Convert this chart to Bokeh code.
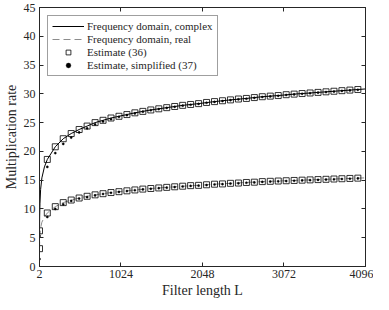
from bokeh.plotting import figure
from bokeh.models import Range1d, FixedTicker, LinearAxis, CustomJSTickFormatter, Legend, LegendItem
from bokeh.embed import file_html
from bokeh.resources import INLINE

# ---------------- data ----------------
x_ticks = [2, 1024, 2048, 3072, 4096]
y_ticks = [0, 5, 10, 15, 20, 25, 30, 35, 40, 45]

# filter lengths at which the estimates are marked
marker_L = [2, 100, 200, 300, 400, 500, 600, 700, 800, 900, 1000,
            1100, 1200, 1300, 1400, 1500, 1600, 1700, 1800, 1900, 2000,
            2100, 2200, 2300, 2400, 2500, 2600, 2700, 2800, 2900, 3000,
            3100, 3200, 3300, 3400, 3500, 3600, 3700, 3800, 3900, 4000]

# estimate (36), complex / real
est_complex = [6.2, 18.6, 20.8, 22.2, 23.1, 23.8, 24.4, 25.0, 25.4, 25.8, 26.1,
               26.4, 26.7, 26.95, 27.2, 27.4, 27.6, 27.8, 28.0, 28.15, 28.3,
               28.5, 28.65, 28.8, 28.95, 29.1, 29.2, 29.35, 29.5, 29.6, 29.7,
               29.85, 29.95, 30.05, 30.15, 30.25, 30.35, 30.45, 30.55, 30.65, 30.75]
est_real = [3.1, 9.3, 10.4, 11.1, 11.55, 11.9, 12.2, 12.45, 12.65, 12.85, 13.0,
            13.15, 13.3, 13.45, 13.55, 13.65, 13.75, 13.85, 13.95, 14.05, 14.1,
            14.2, 14.3, 14.35, 14.45, 14.5, 14.6, 14.65, 14.75, 14.8, 14.85,
            14.9, 14.95, 15.0, 15.05, 15.1, 15.15, 15.2, 15.25, 15.3, 15.35]

# estimate, simplified (37)
simp_complex = [5.3, 17.3, 19.7, 21.3, 22.4, 23.3, 24.0, 24.7, 25.2, 25.6, 26.0,
                26.3, 26.6, 26.9, 27.15, 27.35, 27.55, 27.75, 27.95, 28.1, 28.25,
                28.45, 28.6, 28.75, 28.9, 29.05, 29.15, 29.3, 29.45, 29.55, 29.65,
                29.8, 29.9, 30.0, 30.1, 30.2, 30.3, 30.4, 30.5, 30.6, 30.7]
simp_real = [1.3, 8.6, 10.0, 10.8, 11.4, 11.8, 12.05, 12.35, 12.6, 12.8, 12.95,
             13.1, 13.25, 13.4, 13.5, 13.6, 13.7, 13.8, 13.9, 14.0, 14.05,
             14.15, 14.25, 14.3, 14.4, 14.45, 14.55, 14.6, 14.7, 14.75, 14.8,
             14.85, 14.9, 14.95, 15.0, 15.05, 15.1, 15.15, 15.2, 15.25, 15.3]

# frequency-domain curves (finer sampling at small L)
line_L = [2, 4, 8, 16, 32, 64, 100, 200, 300, 400, 500, 600, 700, 800, 900, 1000,
          1200, 1400, 1600, 1800, 2000, 2200, 2400, 2600, 2800, 3000,
          3200, 3400, 3600, 3800, 4000, 4096]
freq_complex = [6.2, 8.6, 11.0, 13.4, 15.4, 17.3, 18.6, 20.8, 22.2, 23.1, 23.8, 24.4,
                25.0, 25.4, 25.8, 26.1, 26.7, 27.2, 27.6, 28.0, 28.3, 28.65, 28.95,
                29.2, 29.5, 29.7, 29.95, 30.15, 30.35, 30.55, 30.75, 30.85]
freq_real = [3.1, 4.3, 5.5, 6.7, 7.7, 8.6, 9.3, 10.4, 11.1, 11.55, 11.9, 12.2,
             12.45, 12.65, 12.85, 13.0, 13.3, 13.55, 13.75, 13.95, 14.1, 14.3, 14.45,
             14.6, 14.75, 14.85, 14.95, 15.05, 15.15, 15.25, 15.35, 15.4]

# ---------------- figure ----------------
FONT = "Liberation Serif"
INK = "#262626"

p = figure(width=373, height=300, output_backend="svg", toolbar_location=None,
           x_range=Range1d(2, 4096), y_range=Range1d(0, 45),
           min_border_left=0, min_border_right=8, min_border_top=7, min_border_bottom=0)
p.background_fill_color = "white"
p.border_fill_color = "white"
p.outline_line_color = INK
p.outline_line_width = 1
p.xgrid.visible = False
p.ygrid.visible = False

def style_axis(ax, ticks):
    ax.ticker = FixedTicker(ticks=ticks)
    ax.axis_line_color = INK
    ax.major_tick_line_color = INK
    ax.major_tick_in = 4
    ax.major_tick_out = 0
    ax.minor_tick_line_color = None
    ax.major_label_text_font = FONT
    ax.major_label_text_font_size = "12px"
    ax.major_label_text_color = INK
    ax.axis_label_text_font = FONT
    ax.axis_label_text_font_size = "14px"
    ax.axis_label_text_font_style = "normal"
    ax.axis_label_text_color = INK

style_axis(p.xaxis[0], x_ticks)
style_axis(p.yaxis[0], y_ticks)
p.xaxis[0].axis_label = "Filter length L"
p.yaxis[0].axis_label = "Multiplication rate"
p.xaxis[0].major_label_standoff = 3
p.xaxis[0].axis_label_standoff = 2
p.yaxis[0].major_label_standoff = 4
p.yaxis[0].axis_label_standoff = 2

for loc, ticks in (("right", y_ticks), ("above", x_ticks)):
    ax = LinearAxis(formatter=CustomJSTickFormatter(code="return ''"))
    style_axis(ax, ticks)
    ax.major_label_text_font_size = "0px"
    ax.major_label_standoff = 0
    p.add_layout(ax, loc)

r_fc = p.line(line_L, freq_complex, line_color="black", line_width=1)
r_fr = p.line(line_L, freq_real, line_color="#8c8c8c", line_width=1, line_dash="7 4")
r_ec = p.scatter(marker_L, est_complex, marker="square", size=6, fill_color=None,
                 line_color="black", line_width=0.8)
p.scatter(marker_L, est_real, marker="square", size=6, fill_color=None,
          line_color="black", line_width=0.8)
r_sc = p.scatter(marker_L, simp_complex, marker="circle", size=2.2,
                 fill_color="black", line_color="black", line_width=0.4)
p.scatter(marker_L, simp_real, marker="circle", size=2.2,
          fill_color="black", line_color="black", line_width=0.4)

legend = Legend(items=[
    LegendItem(label="Frequency domain, complex", renderers=[r_fc]),
    LegendItem(label="Frequency domain, real", renderers=[r_fr]),
    LegendItem(label="Estimate (36)", renderers=[r_ec]),
    LegendItem(label="Estimate, simplified (37)", renderers=[r_sc]),
], location="top_left")
legend.margin = 8
legend.padding = 4
legend.spacing = 1
legend.glyph_width = 32
legend.glyph_height = 12
legend.label_height = 12
legend.label_standoff = 3
legend.label_text_font = FONT
legend.label_text_font_size = "11px"
legend.label_text_color = INK
legend.border_line_color = "#404040"
legend.border_line_width = 0.8
legend.background_fill_color = "white"
legend.background_fill_alpha = 1
p.add_layout(legend)

open("out.html", "w").write(file_html(p, INLINE))
